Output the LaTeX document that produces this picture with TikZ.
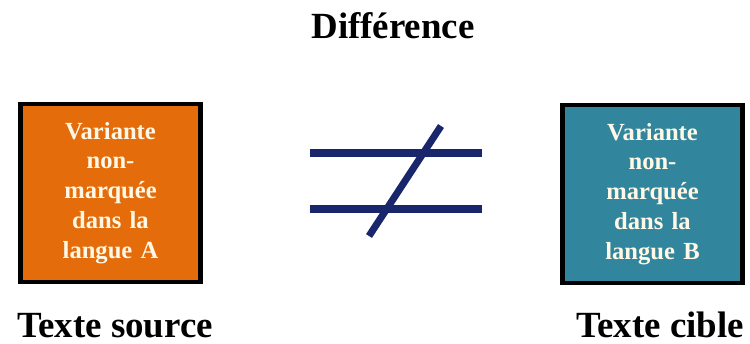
\documentclass[tikz,border=0pt]{standalone}
\usepackage{fontspec}
\setmainfont{Liberation Serif}
\usepackage{xcolor}
\usetikzlibrary{positioning}
\definecolor{varOrange}{RGB}{228,108,10}
\definecolor{varTeal}{RGB}{49,133,156}
\definecolor{signNavy}{RGB}{26,38,108}
\definecolor{boxText}{RGB}{255,248,230}
\tikzset{
    variantBox/.style={
        draw=black,
        line width=2.8pt,
        align=center,
        minimum width=3.6cm,
        minimum height=3.56cm,
        text width=3.2cm,
        font=\fontsize{14}{17}\selectfont\bfseries,
        text=boxText
    },
    textLabel/.style={
        anchor=base,
        inner sep=0pt,
        font=\fontsize{21}{25}\selectfont\bfseries
    },
    signLine/.style={
        signNavy,
        line width=4pt
    }
}
\begin{document}
\begin{tikzpicture}[x=0.02cm,y=-0.02cm]
    \useasboundingbox (0,0) rectangle (750,343);

    \node[variantBox,fill=varOrange] (varA) at (110.5,193) {Variante\\non-\\marquée\\dans la\\langue A};
    \node[variantBox,fill=varTeal] (varB) at (652.5,194) {Variante\\non-\\marquée\\dans la\\langue B};

    \node[textLabel] (diff) at (393,38) {Différence};
    \node[textLabel] (source) at (115,337) {Texte source};
    \node[textLabel] (cible) at (660,337) {Texte cible};

    % not-equal sign
    \coordinate (eqTopL) at (310,153);
    \coordinate (eqTopR) at (482,153);
    \coordinate (eqBotL) at (310,209);
    \coordinate (eqBotR) at (482,209);
    \coordinate (slashLo) at (369,236);
    \coordinate (slashHi) at (441,126);
    \draw[signLine] (eqTopL) -- (eqTopR);
    \draw[signLine] (eqBotL) -- (eqBotR);
    \draw[signLine] (slashLo) -- (slashHi);
\end{tikzpicture}
\end{document}
